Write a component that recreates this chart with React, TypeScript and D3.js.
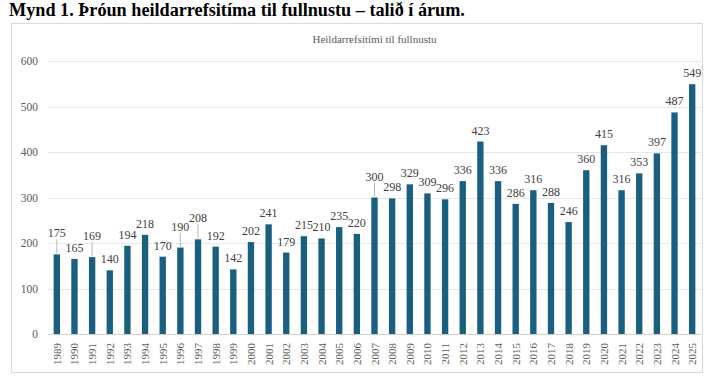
import React from "react";
import * as d3 from "d3";

// Heildarrefsitími til fullnustu, in years
const years = [
  "1989", "1990", "1991", "1992", "1993", "1994", "1995", "1996", "1997", "1998",
  "1999", "2000", "2001", "2002", "2003", "2004", "2005", "2006", "2007", "2008",
  "2009", "2010", "2011", "2012", "2013", "2014", "2015", "2016", "2017", "2018",
  "2019", "2020", "2021", "2022", "2023", "2024", "2025",
];
const values = [
  175, 165, 169, 140, 194, 218, 170, 190, 208, 192,
  142, 202, 241, 179, 215, 210, 235, 220, 300, 298,
  329, 309, 296, 336, 423, 336, 286, 316, 288, 246,
  360, 415, 316, 353, 397, 487, 549,
];
const yTicks = [0, 100, 200, 300, 400, 500, 600];
// labels Excel pushed up with a leader line
const leaderYears = ["1989", "1991", "1996", "1997", "2007"];

const W = 713, H = 387;
const margin = { top: 61, right: 12, bottom: 53, left: 48 };

export default function App() {
  const x = d3.scaleBand().domain(years).range([margin.left, W - margin.right]).paddingInner(0.64).paddingOuter(0.32);
  const y = d3.scaleLinear().domain([0, 600]).range([H - margin.bottom, margin.top]);
  const serif = "'Liberation Serif', 'Times New Roman', serif";

  return (
    <svg width={W} height={H} style={{ position: "absolute", left: 0, top: 0, background: "#fff" }}>
      <text x={9} y={16} fontFamily={serif} fontWeight="bold" fontSize={18.2} fill="#000">
        Mynd 1. Þróun heildarrefsitíma til fullnustu – talið í árum.
      </text>
      <rect x={11.5} y={23.5} width={691} height={349} fill="none" stroke="#d9d9d9" />
      <text x={(margin.left + W - margin.right) / 2} y={43} textAnchor="middle" fontFamily={serif} fontSize={11} fill="#595959">
        Heildarrefsitími til fullnustu
      </text>

      {yTicks.map(t => (
        <g key={t}>
          <line x1={margin.left} x2={W - margin.right} y1={Math.round(y(t)) + 0.5} y2={Math.round(y(t)) + 0.5}
            stroke={t === 0 ? "#d0d0d0" : "#e6e6e6"} />
          <text x={38} y={y(t) + 4} textAnchor="end" fontFamily={serif} fontSize={11.5} fill="#595959">{t}</text>
        </g>
      ))}

      {years.map((yr, i) => {
        const cx = x(yr)! + x.bandwidth() / 2;
        const top = y(values[i]);
        const lifted = leaderYears.includes(yr);
        const ly = top - (lifted ? 17 : 7);
        return (
          <g key={yr}>
            <rect x={x(yr)} y={top} width={x.bandwidth()} height={y(0) - top} fill="#1a5f80" />
            {lifted && <line x1={cx} x2={cx} y1={ly + 2} y2={top - 1} stroke="#a6a6a6" strokeWidth={0.8} />}
            <text x={cx} y={ly} textAnchor="middle" fontFamily={serif} fontSize={12} fill="#404040">{values[i]}</text>
            <text transform={`translate(${cx + 4},${y(0) + 9}) rotate(-90)`} textAnchor="end" fontFamily={serif} fontSize={11} fill="#595959">{yr}</text>
          </g>
        );
      })}
    </svg>
  );
}
